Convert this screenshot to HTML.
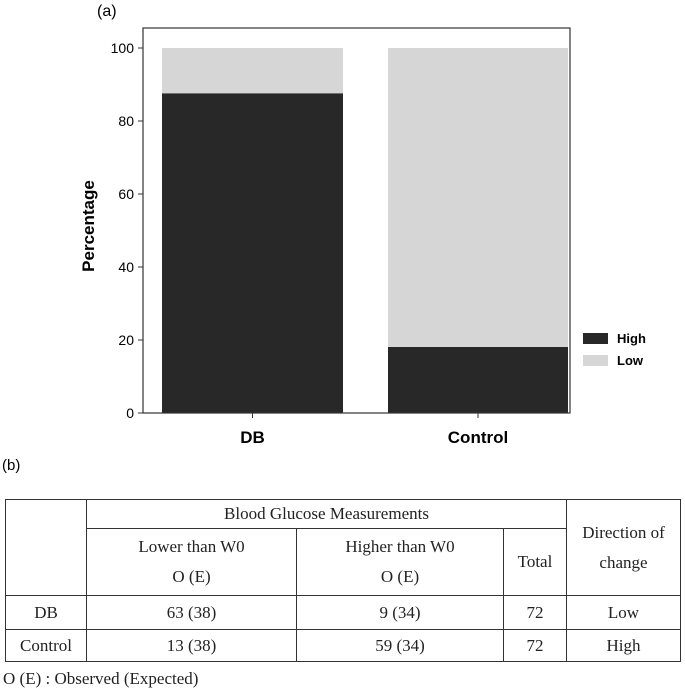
<!DOCTYPE html>
<html><head><meta charset="utf-8"><style>
body{margin:0;width:685px;height:698px;background:#fff;position:relative;overflow:hidden;font-family:"Liberation Sans",sans-serif}
svg{position:absolute;left:0;top:0}
.tbl{position:absolute;left:5px;top:499px;border-collapse:collapse;font-family:"Liberation Serif",serif;font-size:17px;color:#222}
.tbl td{border:1.5px solid #333;text-align:center;padding:0}
</style></head><body>
<svg width="685" height="500">
<text x="97" y="16" font-size="16">(a)</text>
<g id="plot"></g>
</svg>
<table class="tbl">
<tr style="height:29px"><td rowspan="2" style="width:80px"></td><td colspan="3">Blood Glucose Measurements</td><td rowspan="2" style="width:113px;line-height:30px">Direction of<br>change</td></tr>
<tr style="height:67px"><td style="width:209px;line-height:30px">Lower than W0<br>O (E)</td><td style="width:206px;line-height:30px">Higher than W0<br>O (E)</td><td style="width:62px">Total</td></tr>
<tr style="height:34px"><td>DB</td><td>63 (38)</td><td>9 (34)</td><td>72</td><td>Low</td></tr>
<tr style="height:32px"><td>Control</td><td>13 (38)</td><td>59 (34)</td><td>72</td><td>High</td></tr>
</table>
<div style="position:absolute;left:3px;top:669px;font-family:'Liberation Serif',serif;font-size:17px;color:#222">O (E) : Observed (Expected)</div>
<div style="position:absolute;left:2px;top:457px;font-size:15px">(b)</div>
<script>
const categories=["DB","Control"];
const highValues=[87.6,18.1];
const lowValues=[12.4,81.9];
const yTicks=[0,20,40,60,80,100];
const NS="http://www.w3.org/2000/svg";
const g=document.getElementById('plot');
const L=143,R=570,T=28,B=413;
const y=v=>B-(v/100)*(B-48);
const bands=[[162,343],[388,568]];
function mk(t,a){const e=document.createElementNS(NS,t);for(const k in a)e.setAttribute(k,a[k]);g.appendChild(e);return e;}
categories.forEach((c,i)=>{
 const [x0,x1]=bands[i];
 const h=mk('rect',{x:x0,y:y(highValues[i]),width:x1-x0,height:y(0)-y(highValues[i]),fill:'#282828'});
 
 
 const l=mk('rect',{x:x0,y:y(highValues[i]+lowValues[i]),width:x1-x0,height:y(highValues[i])-y(highValues[i]+lowValues[i]),fill:'#d6d6d6'});
 
 
 const cx=(x0+x1)/2;
 mk('line',{x1:cx,x2:cx,y1:B,y2:B+5,stroke:'#333'});
 const t=mk('text',{x:cx,y:B+30,'text-anchor':'middle','font-size':17,'font-weight':'bold'});
 t.textContent=c;
 
 
});
yTicks.forEach(v=>{
 mk('line',{x1:L-5,x2:L,y1:y(v),y2:y(v),stroke:'#333'});
 const t=mk('text',{x:L-9,y:y(v)+5,'text-anchor':'end','font-size':14});
 t.textContent=v;
 
 
});
const fr=mk('rect',{x:L,y:T,width:R-L,height:B-T,fill:'none',stroke:'#333','stroke-width':1.2});


const yt=mk('text',{x:0,y:0,'text-anchor':'middle','font-size':17,'font-weight':'bold',transform:'translate(94,226) rotate(-90)'});
yt.textContent='Percentage';


[['High','#282828',338],['Low','#d6d6d6',360]].forEach(([n,c,yy])=>{
 const r=mk('rect',{x:583,y:yy-5,width:25,height:11,fill:c});
 
 
 const t=mk('text',{x:617,y:yy+5,'font-size':13,'font-weight':'bold'});
 t.textContent=n;
 
 
});
</script>
</body></html>
